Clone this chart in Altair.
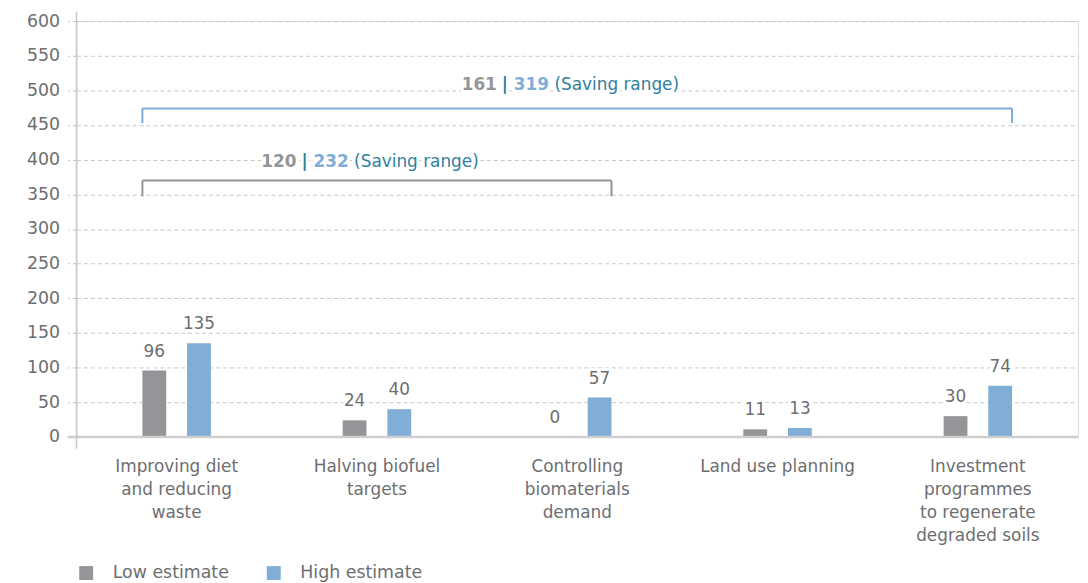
import altair as alt
import pandas as pd

# ---------------- data ----------------
categories = [
    "Improving diet\nand reducing\nwaste",
    "Halving biofuel\ntargets",
    "Controlling\nbiomaterials\ndemand",
    "Land use planning",
    "Investment\nprogrammes\nto regenerate\ndegraded soils",
]
series = ["Low estimate", "High estimate"]
low_values = [96, 24, 0, 11, 30]
high_values = [135, 40, 57, 13, 74]

y_ticks = list(range(0, 601, 50))

bracket_ids = ["First three measures", "All measures"]
bracket_start = [categories[0], categories[0]]
bracket_end = [categories[2], categories[4]]
bracket_mid = [categories[1], categories[2]]
bracket_top = [370, 474]
bracket_bottom = [347, 453]
bracket_label_y = [397, 507]
range_low = [120, 161]
range_high = [232, 319]
range_note = ["(Saving range)", "(Saving range)"]
range_sep = ["|", "|"]

# ---------------- styles ----------------
FONT = "DejaVu Sans"
GRAY = "#939598"
BLUE = "#80aed6"
TEAL = "#2f80a0"
TEXT = "#6d6e71"
GRID = "#c8c8c8"
W, H = 1009, 419

bars_df = pd.DataFrame(
    {
        "category": categories * 2,
        "series": [series[0]] * len(categories) + [series[1]] * len(categories),
        "value": low_values + high_values,
    }
)
br_df = pd.DataFrame(
    {
        "bracket": bracket_ids,
        "start": bracket_start,
        "end": bracket_end,
        "mid": bracket_mid,
        "top": bracket_top,
        "bottom": bracket_bottom,
        "label_y": bracket_label_y,
        "low": [str(v) for v in range_low],
        "high": [str(v) for v in range_high],
        "note": range_note,
        "sep": range_sep,
    }
)

x_scale = alt.Scale(domain=categories, paddingInner=0.658, paddingOuter=0.329)
y_scale = alt.Scale(domain=[0, 600], nice=False)
off_scale = alt.Scale(domain=series, paddingInner=0.4667, paddingOuter=0)

x_axis = alt.Axis(
    title=None,
    labelAngle=0,
    labelAlign="center",
    labelBaseline="top",
    domain=False,
    ticks=False,
    grid=False,
    labelExpr="split(datum.label, '\\n')",
    labelLineHeight=23,
    labelFontSize=17,
    labelFont=FONT,
    labelColor=TEXT,
    labelPadding=22,
    labelLimit=300,
    labelOverlap=False,
)
y_axis = alt.Axis(
    title=None,
    values=y_ticks,
    grid=True,
    gridDash=[4, 3],
    gridColor=GRID,
    gridWidth=1,
    ticks=True,
    tickDash=[4, 3],
    tickColor=GRID,
    tickSize=9,
    domain=False,
    labelFontSize=17.5,
    labelFont=FONT,
    labelColor=TEXT,
    labelPadding=8,
    labelOverlap=False,
)


def X(field):
    return alt.X(f"{field}:N", scale=x_scale, axis=x_axis)


def Y(field):
    return alt.Y(f"{field}:Q", scale=y_scale, axis=y_axis)


base = alt.Chart(bars_df)

bars = base.mark_bar().encode(
    x=X("category"),
    xOffset=alt.XOffset("series:N", scale=off_scale),
    y=Y("value"),
    color=alt.Color(
        "series:N",
        scale=alt.Scale(domain=series, range=[GRAY, BLUE]),
        legend=alt.Legend(
            title=None,
            orient="none",
            legendX=1,
            legendY=547,
            direction="horizontal",
            symbolType="square",
            symbolSize=196,
            symbolStrokeWidth=0,
            labelFontSize=17.5,
            labelFont=FONT,
            labelColor=TEXT,
            labelOffset=18,
            columnPadding=36,
        ),
    ),
)

label_enc = dict(
    x=X("category"),
    xOffset=alt.XOffset("series:N", scale=off_scale),
    y=Y("value"),
    text=alt.Text("value:Q"),
)
label_halo = base.mark_text(
    font=FONT, fontSize=17, dy=-19, baseline="middle", stroke="white",
    strokeWidth=6, strokeJoin="round", fill="white",
).encode(**label_enc)
labels = base.mark_text(
    font=FONT, fontSize=17, dy=-19, baseline="middle", color=TEXT
).encode(**label_enc)

br = alt.Chart(br_df)
stroke_enc = alt.Stroke(
    "bracket:N", scale=alt.Scale(domain=bracket_ids, range=[GRAY, BLUE]), legend=None
)
br_h = br.mark_rule(strokeWidth=2, xOffset=-34.5, x2Offset=34.5).encode(
    x=X("start"), x2="end:N", y=Y("top"), stroke=stroke_enc,
)
br_l = br.mark_rule(strokeWidth=2, xOffset=-34.5).encode(
    x=X("start"), y=Y("top"), y2="bottom:Q", stroke=stroke_enc,
)
br_r = br.mark_rule(strokeWidth=2, xOffset=34.5).encode(
    x=X("end"), y=Y("top"), y2="bottom:Q", stroke=stroke_enc,
)


def seg(field, align, dx, color, weight, halo=False):
    props = dict(font=FONT, fontSize=17, align=align, dx=dx, baseline="middle",
                 fontWeight=weight)
    if halo:
        props.update(stroke="white", strokeWidth=6, strokeJoin="round", fill="white")
    else:
        props.update(color=color)
    return br.mark_text(**props).encode(
        x=X("mid"), y=Y("label_y"), text=f"{field}:N",
    )


seg_specs = [
    ("low", "right", -81, GRAY, "bold"),
    ("sep", "center", -73, TEAL, "bold"),
    ("high", "left", -64, BLUE, "bold"),
    ("note", "left", -23, TEAL, "normal"),
]
halos = [seg(f, a, d, c, w, halo=True) for f, a, d, c, w in seg_specs]
texts = [seg(f, a, d, c, w) for f, a, d, c, w in seg_specs]

baseline = alt.Chart(pd.DataFrame({"zero": [0]})).mark_rule(
    color="#cfcfcf", strokeWidth=2.5
).encode(y=alt.Y("zero:Q", scale=y_scale, axis=y_axis), x=alt.value(-9), x2=alt.value(W))

y_axis_line = alt.Chart(pd.DataFrame({"zero": [0]})).mark_rule(
    color=GRID, strokeWidth=1.5
).encode(x=alt.value(0), y=alt.value(-9), y2=alt.value(H + 12))

chart = (
    alt.layer(
        bars, *halos, label_halo, baseline, y_axis_line,
        br_h, br_l, br_r, *texts, labels,
    )
    .properties(
        width=W,
        height=H,
        autosize=alt.AutoSizeParams(type="none"),
        padding={"left": 69, "top": 11, "right": 2, "bottom": 145},
    )
    .configure_view(stroke=None)
    .configure(font=FONT)
)

chart.save("out.html", embed_options={"renderer": "svg", "actions": False})
